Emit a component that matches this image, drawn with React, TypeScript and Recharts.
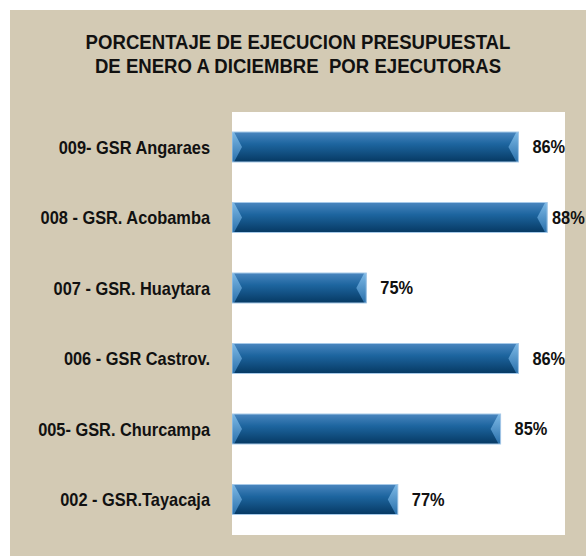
import React from 'react';
import { BarChart, Bar, XAxis, YAxis, CartesianGrid, LabelList } from 'recharts';

const categories = [
  '009- GSR Angaraes',
  '008 - GSR. Acobamba',
  '007 - GSR. Huaytara',
  '006 - GSR Castrov.',
  '005- GSR. Churcampa',
  '002 - GSR.Tayacaja',
];
const values = [85.9, 88.0, 74.8, 85.9, 84.6, 77.1];
const boundaryTicks = [0, 1, 2, 3, 4, 5, 6];
const titleLines = ['PORCENTAJE DE EJECUCION PRESUPUESTAL', 'DE ENERO A DICIEMBRE  POR EJECUTORAS'];
const xDomain = [65, 89.3];

const data = categories.map((name, i) => ({ name, value: values[i] }));

const FONT = "'Liberation Sans Narrow', 'Arial Narrow', 'Liberation Sans', Arial, sans-serif";
const W = 586;
const H = 556;
const NARROW = 0.91;

const BevelBar = (props: any) => {
  const { x, y, width, height, index } = props;
  if (!width || width <= 0) return null;
  const gid = `barGrad${index}`;
  const eid = `endGrad${index}`;
  const b = Math.min(10, width / 4);
  const h2 = height / 2;
  return (
    <g>
      <defs>
        <linearGradient id={gid} x1="0" y1="0" x2="0" y2="1">
          <stop offset="0%" stopColor="#4a86bf" />
          <stop offset="40%" stopColor="#1d659f" />
          <stop offset="100%" stopColor="#063963" />
        </linearGradient>
        <linearGradient id={eid} x1="0" y1="0" x2="0" y2="1">
          <stop offset="0%" stopColor="#7db9e6" />
          <stop offset="100%" stopColor="#2a70ab" />
        </linearGradient>
      </defs>
      <rect x={x} y={y} width={width} height={height} fill={`url(#${gid})`} />
      <polygon
        points={`${x},${y} ${x + 2},${y} ${x + b},${y + h2} ${x + 2},${y + height} ${x},${y + height}`}
        fill={`url(#${eid})`}
      />
      <polygon
        points={`${x + width},${y} ${x + width - 2},${y} ${x + width - b},${y + h2} ${x + width - 2},${y + height} ${x + width},${y + height}`}
        fill={`url(#${eid})`}
      />
      <rect x={x} y={y} width={width} height={height} fill="none" stroke="#a6c9e8" strokeWidth={1} />
    </g>
  );
};

const renderLabel = (props: any) => {
  const { x, y, width, height, value } = props;
  const lx = Math.min(Number(x) + Number(width) + 14, W - 34);
  const cy = Number(y) + Number(height) / 2;
  return (
    <text
      transform={`translate(${lx},${cy}) scale(${NARROW},1)`}
      x={0}
      y={0}
      dy="0.36em"
      fontSize={18}
      fontWeight="bold"
      fill="#111"
      fontFamily={FONT}
    >
      {`${Math.round(Number(value))}%`}
    </text>
  );
};

const CategoryTick = (props: any) => {
  const { x, y, payload } = props;
  return (
    <text
      transform={`translate(${x},${y}) scale(${NARROW},1)`}
      x={0}
      y={0}
      dy="0.36em"
      textAnchor="end"
      fontSize={18}
      fontWeight="bold"
      fill="#111"
      fontFamily={FONT}
    >
      {payload.value}
    </text>
  );
};

export default function App() {
  return (
    <div style={{ position: 'absolute', left: 0, top: 0, width: W, height: H, background: '#fff', fontFamily: FONT }}>
      <div style={{ position: 'absolute', left: 10, top: 10, width: W - 10, height: H - 10, background: '#d3cab4' }} />
      <div
        style={{
          position: 'absolute',
          left: 10,
          top: 30,
          width: W - 10,
          textAlign: 'center',
          fontSize: 21,
          lineHeight: '24px',
          fontWeight: 'bold',
          color: '#111',
          whiteSpace: 'pre',
          transform: 'scaleX(0.885)',
          transformOrigin: '288px 0',
        }}
      >
        {titleLines.map((t) => (
          <div key={t}>{t}</div>
        ))}
      </div>
      <div style={{ position: 'absolute', left: 0, top: 0 }}>
        <BarChart
          width={W}
          height={H}
          data={data}
          layout="vertical"
          margin={{ top: 112, right: 21, bottom: 21, left: 10 }}
        >
          <CartesianGrid fill="#ffffff" stroke="none" horizontal={false} vertical={false} />
          <XAxis type="number" domain={xDomain} hide allowDataOverflow />
          <YAxis
            yAxisId="b"
            type="number"
            domain={[0, 6]}
            ticks={boundaryTicks}
            tick={false}
            width={0}
            tickSize={5}
            axisLine={{ stroke: '#878787', strokeWidth: 2 }}
            tickLine={{ stroke: '#878787', strokeWidth: 1.5 }}
          />
          <YAxis
            type="category"
            dataKey="name"
            width={222}
            axisLine={false}
            tickLine={false}
            tickMargin={16}
            tick={CategoryTick}
          />
          <Bar dataKey="value" barSize={30} isAnimationActive={false} shape={BevelBar}>
            <LabelList dataKey="value" content={renderLabel} />
          </Bar>
        </BarChart>
      </div>
    </div>
  );
}
